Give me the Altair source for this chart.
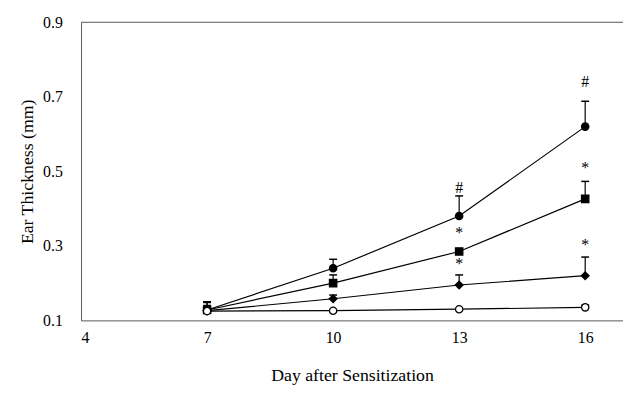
import altair as alt
import pandas as pd

days = [7, 10, 13, 16]
series_names = ["filled circle", "filled square", "filled diamond", "open circle"]
means = {
    "filled circle": [0.128, 0.240, 0.380, 0.620],
    "filled square": [0.128, 0.200, 0.285, 0.426],
    "filled diamond": [0.126, 0.158, 0.195, 0.220],
    "open circle": [0.125, 0.126, 0.130, 0.135],
}
uppers = {
    "filled circle": [0.148, 0.264, 0.434, 0.688],
    "filled square": [0.150, 0.222, 0.292, 0.473],
    "filled diamond": [0.140, 0.168, 0.222, 0.270],
    "open circle": [None, None, None, 0.141],
}
shapes = {"filled circle": "circle", "filled square": "square",
          "filled diamond": "diamond", "open circle": "circle"}
fills = {"filled circle": "black", "filled square": "black",
         "filled diamond": "black", "open circle": "white"}

ann_text = ["#", "#", "*", "*", "*", "*"]
ann_day = [13, 16, 13, 13, 16, 16]
ann_val = [0.455, 0.740, 0.335, 0.252, 0.508, 0.302]

rows = []
for s in series_names:
    for d, m, u in zip(days, means[s], uppers[s]):
        rows.append({"series": s, "day": d, "mean": m, "upper": u})
df = pd.DataFrame(rows)
err = df.dropna(subset=["upper"])
ann = pd.DataFrame({"t": ann_text, "day": ann_day, "v": ann_val})

FONT = "Liberation Serif"
xs = alt.Scale(domain=[4, 16.9], nice=False, zero=False)
ys = alt.Scale(domain=[0.1, 0.9], nice=False, zero=False)

x_axis = alt.Axis(
    values=[4, 7, 10, 13, 16], title="Day after Sensitization", grid=False,
    ticks=False, domainColor="#555", labelFont=FONT, labelFontSize=16,
    labelColor="black", labelPadding=9, titleFont=FONT, titleFontSize=18,
    titleFontWeight="normal", titleColor="black", titlePadding=22)
y_axis = alt.Axis(
    values=[0.1, 0.3, 0.5, 0.7, 0.9], format=".1f", title="Ear Thickness (mm)",
    grid=False, ticks=False, domainColor="#555", labelFont=FONT,
    labelFontSize=16, labelColor="black", labelPadding=19, titleFont=FONT,
    titleFontSize=18, titleFontWeight="normal", titleColor="black",
    titlePadding=6)

layers = []
for s in series_names:
    sub = df[df.series == s]
    layers.append(alt.Chart(sub).mark_line(color="black", strokeWidth=1.2).encode(
        x=alt.X("day:Q", scale=xs, axis=x_axis),
        y=alt.Y("mean:Q", scale=ys, axis=y_axis)))
layers.append(alt.Chart(pd.DataFrame({"v": [0.9]})).mark_rule(
    color="#555", strokeWidth=1).encode(
    y=alt.Y("v:Q", scale=ys, axis=y_axis), x=alt.value(0), x2=alt.value(560)))
layers.append(alt.Chart(err).mark_rule(color="black", strokeWidth=1.2).encode(
    x=alt.X("day:Q", scale=xs, axis=x_axis),
    y=alt.Y("mean:Q", scale=ys, axis=y_axis), y2="upper:Q"))
layers.append(alt.Chart(err).mark_rule(color="black", strokeWidth=1.5,
                                        xOffset=-4, x2Offset=4).encode(
    x=alt.X("day:Q", scale=xs, axis=x_axis), x2="day:Q",
    y=alt.Y("upper:Q", scale=ys, axis=y_axis)))
for s in series_names:
    sub = df[df.series == s]
    layers.append(alt.Chart(sub).mark_point(
        shape=shapes[s], filled=True, fill=fills[s], stroke="black",
        strokeWidth=1.3, size=55 if s != "filled diamond" else 60, opacity=1).encode(
        x=alt.X("day:Q", scale=xs, axis=x_axis),
        y=alt.Y("mean:Q", scale=ys, axis=y_axis)))
layers.append(alt.Chart(ann).mark_text(font=FONT, fontSize=16, color="black",
                                        baseline="middle").encode(
    x=alt.X("day:Q", scale=xs, axis=x_axis),
    y=alt.Y("v:Q", scale=ys, axis=y_axis), text="t:N"))

chart = alt.layer(*layers).properties(
    width=549, height=302,
    autosize=alt.AutoSizeParams(type="none"),
    padding={"left": 74, "top": 12, "right": 0, "bottom": 64},
    background="white",
).configure_view(stroke=None)

chart.save("out.html", embed_options={"renderer": "svg", "actions": False})
